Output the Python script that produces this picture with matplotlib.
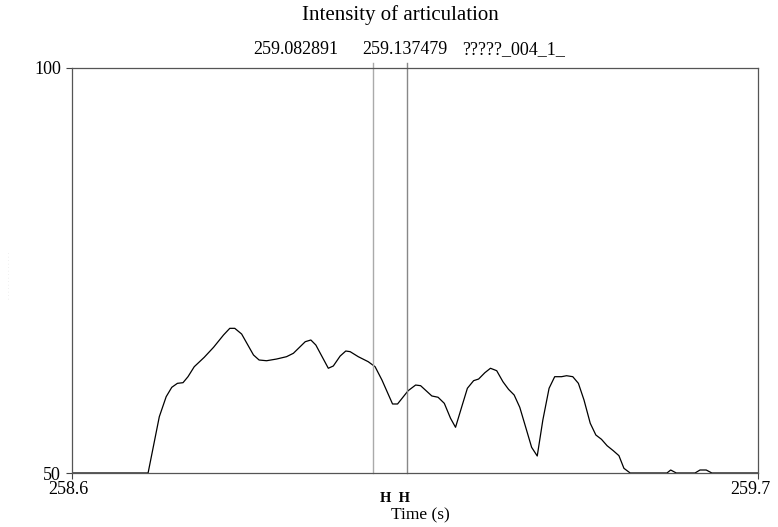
import matplotlib
matplotlib.use("Agg")
import matplotlib.pyplot as plt
from matplotlib.transforms import ScaledTranslation

plt.rcParams['font.family'] = ['Liberation Serif', 'DejaVu Serif']

# intensity curve (time in s, intensity in dB)
time_s = [258.600, 258.722, 258.740, 258.751, 258.760, 258.769, 258.778, 258.786,
          258.796, 258.812, 258.827, 258.843, 258.853, 258.861, 258.872, 258.891,
          258.900, 258.912, 258.928, 258.944, 258.955, 258.974, 258.983, 258.991,
          259.011, 259.019, 259.030, 259.039, 259.046, 259.059, 259.075, 259.086,
          259.097, 259.114, 259.122, 259.139, 259.151, 259.159, 259.177, 259.187,
          259.197, 259.207, 259.215, 259.225, 259.234, 259.244, 259.252, 259.262,
          259.271, 259.281, 259.291, 259.300, 259.309, 259.318, 259.328, 259.337,
          259.346, 259.355, 259.365, 259.374, 259.385, 259.393, 259.403, 259.412,
          259.421, 259.431, 259.440, 259.449, 259.458, 259.468, 259.477, 259.485,
          259.495, 259.554, 259.560, 259.569, 259.599, 259.607, 259.617, 259.626,
          259.700]
intensity = [50.0, 50.0, 56.95, 59.42, 60.58, 61.07, 61.15, 61.89,
             63.12, 64.28, 65.52, 67.04, 67.86, 67.86, 67.16, 64.57,
             63.95, 63.86, 64.07, 64.36, 64.78, 66.21, 66.42, 65.80,
             62.93, 63.21, 64.44, 65.06, 64.98, 64.36, 63.74, 63.12,
             61.48, 58.52, 58.52, 60.16, 60.86, 60.78, 59.51, 59.35,
             58.60, 56.75, 55.64, 58.19, 60.46, 61.40, 61.60, 62.38,
             62.93, 62.63, 61.27, 60.33, 59.63, 58.11, 55.52, 53.17,
             52.10, 56.54, 60.46, 61.89, 61.89, 62.01, 61.89, 61.07,
             59.01, 56.14, 54.69, 54.16, 53.37, 52.75, 52.14, 50.58,
             50.0, 50.0, 50.37, 50.0, 50.0, 50.37, 50.37, 50.0,
             50.0]

cursor_times = [259.082891, 259.137479]
cursor_colors = ['#aaaaaa', '#888888']
x_range = [258.6, 259.7]
y_range = [50, 100]

fig = plt.figure(figsize=(7.78, 5.27), dpi=100)
ax = fig.add_axes([72 / 778, 1 - 473 / 527, 686 / 778, 405 / 527])

ax.plot(time_s, intensity, color='black', lw=0.9)
for t, c in zip(cursor_times, cursor_colors):
    ax.axvline(t, ymin=0, ymax=1.012, color=c, lw=1.0, clip_on=False)

ax.set_xlim(x_range)
ax.set_ylim(y_range)
ax.set_xticks(x_range)
ax.set_xticklabels(['258.6', '259.7'])
ax.set_yticks(y_range)
ax.set_yticklabels(['50', '100'])
ax.tick_params(direction='out', length=4, width=0.8, colors='#444444',
               labelcolor='black', labelsize=13)
ax.tick_params(axis='y', pad=4)
ax.tick_params(axis='x', pad=2)
# the x labels sit a little left of their ticks in the original
for lab, dx in zip(ax.get_xticklabels(), [-4, -8]):
    lab.set_transform(lab.get_transform() + ScaledTranslation(dx / 100, 0, fig.dpi_scale_trans))
for s in ax.spines.values():
    s.set_color('#555555')
    s.set_linewidth(0.9)

fig.text(400 / 778, 1 - 15 / 527, 'Intensity of articulation',
         ha='center', va='center', fontsize=15)
fig.text(296 / 778, 1 - 50 / 527, '259.082891', ha='center', va='center', fontsize=13)
fig.text(405 / 778, 1 - 50 / 527, '259.137479', ha='center', va='center', fontsize=13)
fig.text(514 / 778, 1 - 50 / 527, '?????_004_1_', ha='center', va='center', fontsize=13)

fig.text(395 / 778, 1 - 498 / 527, 'H  H', ha='center', va='center',
         fontsize=10.5, fontweight='bold')
fig.text(420 / 778, 1 - 515 / 527, 'Time (s)', ha='center', va='center', fontsize=12.5)

fig.text(9 / 778, 1 - 275 / 527, '. . . . . . . . . . . . . .', rotation=90,
         ha='center', va='center', fontsize=5, color='#dddddd')

fig.savefig('out.png', dpi=100)
